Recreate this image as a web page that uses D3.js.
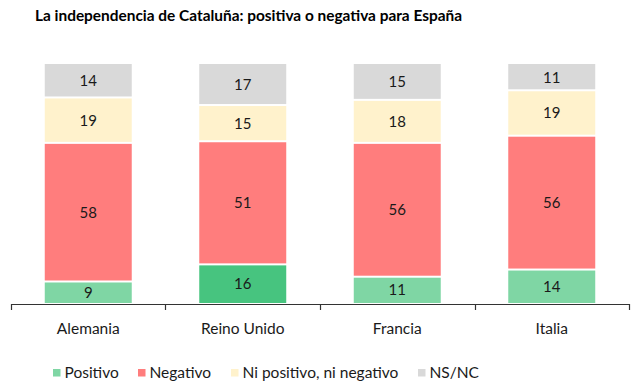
<!DOCTYPE html>
<html><head><meta charset="utf-8">
<script src="https://cdn.jsdelivr.net/npm/d3@7"></script>
<style>body{margin:0;background:#fff}svg{display:block}text{font-family:Lato,"Open Sans",sans-serif}</style>
</head><body><svg id="c" width="640" height="381"></svg>
<script>
const categories = ["Alemania","Reino Unido","Francia","Italia"];
const seriesNames = ["Positivo","Negativo","Ni positivo, ni negativo","NS/NC"];
const positivo = [9,16,11,14];
const negativo = [58,51,56,56];
const niNi = [19,15,18,19];
const nsnc = [14,17,15,11];
const title = "La independencia de Cataluña: positiva o negativa para España";

const colors = ["#7fd6a4","#ff7d7d","#fff2cc","#d9d9d9"];
const highlightPos = "#47c47f";

const rows = categories.map((c,i)=>({cat:c, "Positivo":positivo[i], "Negativo":negativo[i], "Ni positivo, ni negativo":niNi[i], "NS/NC":nsnc[i]}));
const stack = d3.stack().keys(seriesNames).offset(d3.stackOffsetExpand)(rows);

const svg = d3.select("#c");
const x = d3.scaleBand().domain(categories).range([11,629]).paddingInner(0.437).paddingOuter(0.2185);
const y = d3.scaleLinear().domain([0,1]).range([303,64]);

svg.append("text").attr("x",35).attr("y",21)
  .attr("font-weight","bold").attr("font-size",16).attr("fill","#000")
  .attr("textLength",427).attr("lengthAdjust","spacingAndGlyphs").text(title);

const g = svg.append("g");
stack.forEach((s,si)=>{
  s.forEach((d,i)=>{
    const top = y(d[1]) + (si===seriesNames.length-1?0:1);
    const bot = y(d[0]) - (si===0?0:1);
    const col = (si===0 && categories[i]==="Reino Unido") ? highlightPos : colors[si];
    g.append("rect").attr("x",x(categories[i])).attr("width",x.bandwidth())
      .attr("y",top).attr("height",bot-top).attr("fill",col);
    const val = rows[i][seriesNames[si]];
    g.append("text").attr("x",x(categories[i])+x.bandwidth()/2).attr("y",(y(d[0])+y(d[1]))/2)
      .attr("dy","0.36em").attr("text-anchor","middle").attr("font-size",15).attr("fill","#1a1a1a").text(val);
  });
});

// axis
const ax = svg.append("g");
ax.append("line").attr("x1",11).attr("x2",629).attr("y1",304.5).attr("y2",304.5).attr("stroke","#333").attr("stroke-width",1.2);
const bounds = [11].concat(categories.map(c=>x(c)-x.step()*x.paddingInner()/2).slice(1), [629]);
bounds.forEach(b=>{
  const bx = Math.round(b)+0.5;
  ax.append("line").attr("x1",bx).attr("x2",bx).attr("y1",304).attr("y2",310).attr("stroke","#333").attr("stroke-width",1.2);
});
categories.forEach(c=>{
  ax.append("text").attr("x",x(c)+x.bandwidth()/2).attr("y",334).attr("text-anchor","middle")
    .attr("font-size",15.5).attr("fill","#1a1a1a").text(c);
});

// legend
const legX = [53,138,231,418];
const lg = svg.append("g");
seriesNames.forEach((n,i)=>{
  lg.append("rect").attr("x",legX[i]).attr("y",369).attr("width",7.5).attr("height",7.5).attr("fill",colors[i]);
  lg.append("text").attr("x",legX[i]+11.5).attr("y",377.5).attr("font-size",15.5).attr("fill","#1a1a1a").text(n);
});
</script></body></html>
